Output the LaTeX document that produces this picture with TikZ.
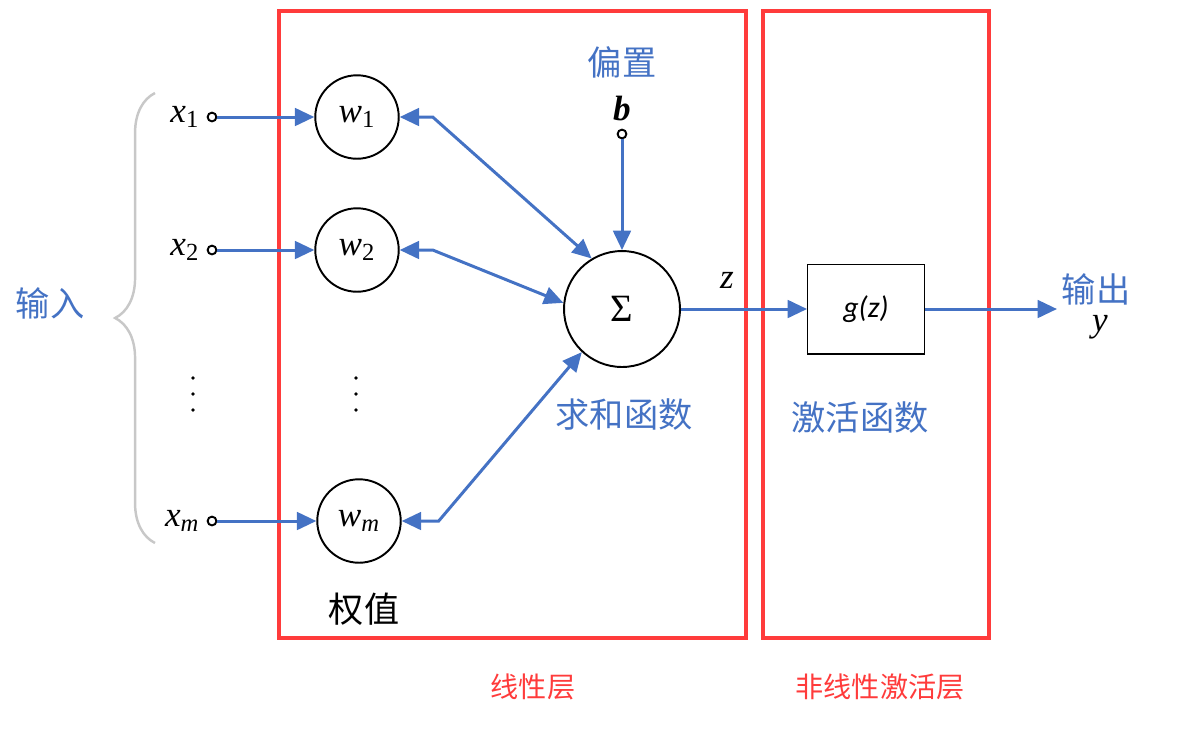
\documentclass[tikz,border=0pt]{standalone}
\usepackage{fontspec}
\setmainfont{Liberation Serif}
\newfontfamily\cjk{Noto Sans CJK SC}
\newfontfamily\gzfont{Carlito}
\usetikzlibrary{arrows.meta,decorations.pathreplacing,positioning}
\definecolor{lblue}{RGB}{68,114,196}
\definecolor{lred}{RGB}{255,59,59}
\definecolor{lgray}{RGB}{200,200,200}

\begin{document}
\begin{tikzpicture}[x=0.02cm,y=-0.02cm]
	\tikzstyle{wc}=[circle, draw, line width=1.1pt, minimum size=47.5pt, inner sep=0pt, font=\fontsize{20}{24}\selectfont]
	\tikzstyle{sc}=[circle, draw, line width=1.1pt, minimum size=66pt, inner sep=0pt, font=\fontsize{22}{26}\selectfont]
	\tikzstyle{gbox}=[rectangle, draw, line width=0.8pt, minimum width=66.3pt, minimum height=51pt, font=\gzfont\itshape\fontsize{17}{20}\selectfont]
	\tikzstyle{port}=[circle, draw, line width=1.1pt, minimum size=5pt, inner sep=0pt]
	\tikzstyle{var}=[inner sep=1pt, font=\fontsize{20}{24}\selectfont]
	\tikzstyle{flow}=[lblue, line width=1.7pt, -{Triangle[length=11pt,width=10pt]}]
	\tikzstyle{both}=[lblue, line width=1.7pt, {Triangle[length=11pt,width=10pt]}-{Triangle[length=11pt,width=10pt]}]
	\tikzstyle{blabel}=[text=lblue, font=\cjk\fontsize{19.5}{22}\selectfont]
	\tikzstyle{rlabel}=[text=lred, font=\cjk\fontsize{16}{19}\selectfont]
	\tikzstyle{redbox}=[draw=lred, line width=2.8pt]

	\useasboundingbox (0,0) rectangle (1186,728);

	% layer frames
	\draw[redbox] (279,11) rectangle (746,638);
	\draw[redbox] (763,11) rectangle (989,638);

	% inputs
	\node[port] (p1) at (212,117) {};
	\node[port] (p2) at (212,250) {};
	\node[port] (pm) at (212,521) {};
	\node[var] (x1) [left=3pt of p1] {\textit{x}\textsubscript{1}};
	\node[var] (x2) [left=3pt of p2] {\textit{x}\textsubscript{2}};
	\node[var] (xm) [left=3pt of pm] {\textit{x}\textsubscript{\textit{m}}};
	\draw[lgray, line width=1.4pt, decorate, decoration={brace, amplitude=22.7pt}] (155,543) -- (155,93);
	\node[blabel] (inp) at (50,303) {输入};

	% weights
	\node[wc] (w1) at (357,117) {\textit{w}\textsubscript{1}};
	\node[wc] (w2) at (357,250) {\textit{w}\textsubscript{2}};
	\node[wc] (wm) at (359,521) {\textit{w}\textsubscript{\textit{m}}};
	\node[text=black, font=\cjk\fontsize{20}{24}\selectfont] (wl) at (364,609) {权值};
	\foreach \y in {378,394,410} {
		\fill (193,\y) circle (1.1pt);
		\fill (356,\y) circle (1.1pt);
	}

	% sum
	\node[sc] (sum) at (622,309) {Σ};
	\node[port] (pb) at (622,134) {};
	\node[var] (b) [above=3pt of pb] {\textbf{\textit{b}}};
	\node[blabel] (bias) at (622,62) {偏置};
	\node[blabel] (suml) at (624,415) {求和函数};
	\node[var] (zl) at (727,280) {\textit{z}};

	% activation
	\node[gbox] (g) at (866,309) {g(z)};
	\node[blabel] (actl) at (860,418) {激活函数};
	\coordinate (out) at (1057,309);
	\node[blabel, inner sep=0pt] (outl) at (1096,289) {输出};
	\node[var, inner sep=0pt] (yl) at (1100,327) {\textit{y}};

	\node[rlabel] (lin) at (533,687) {线性层};
	\node[rlabel] (nonlin) at (880,687) {非线性激活层};

	\foreach \from/\to in {p1/w1,p2/w2,pm/wm,pb/sum,sum/g,g/out}
	\draw[flow] (\from) -- (\to);
	\draw[both] (w1.east) -- ++(33,0) -- (sum.121);
	\draw[both] (w2.east) -- ++(33,0) -- (sum.174);
	\draw[both] (wm.east) -- ++(37,0) -- (sum.227);
\end{tikzpicture}
\end{document}
